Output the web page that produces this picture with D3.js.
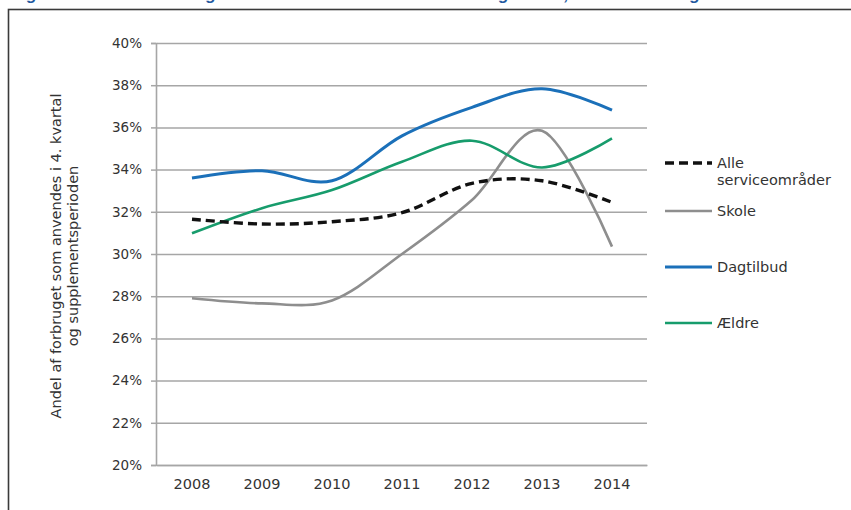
<!DOCTYPE html>
<html>
<head>
<meta charset="utf-8">
<script src="https://cdn.jsdelivr.net/npm/d3@7"></script>
<style>
  body { margin: 0; background: #fff; }
  text { font-family: "DejaVu Sans", Verdana, sans-serif; fill: #333; }
  .grid line { stroke: #a6a6a6; stroke-width: 1.5; }
  .grid path { display: none; }
</style>
</head>
<body>
<div id="chart"></div>
<script>
// data
const years = ["2008", "2009", "2010", "2011", "2012", "2013", "2014"];
const alle = [31.65, 31.42, 31.53, 31.96, 33.35, 33.47, 32.45];
const skole = [27.9, 27.66, 27.8, 30.0, 32.56, 35.84, 30.35];
const dagtilbud = [33.6, 33.95, 33.47, 35.6, 36.95, 37.83, 36.82];
const aeldre = [30.98, 32.17, 33.03, 34.37, 35.37, 34.1, 35.48];
const yTicks = [20, 22, 24, 26, 28, 30, 32, 34, 36, 38, 40];
const seriesNames = ["Alle serviceområder", "Skole", "Dagtilbud", "Ældre"];
const yLabelLines = ["Andel af forbruget som anvendes i 4. kvartal", "og supplementsperioden"];
// title is cut off at the top of the picture, only descenders show
const titleText = "Figur 2.4 Andel af forbruget som anvendes i årets 4. kvartal og ultimo, efter område og år";

const width = 851, height = 510;

const svg = d3.select("#chart").append("svg")
  .attr("width", width)
  .attr("height", height);

svg.append("text")
  .attr("x", 12)
  .attr("y", -0.5)
  .style("font-family", "'Liberation Sans', Arial, sans-serif")
  .style("font-weight", "bold")
  .style("font-style", "italic")
  .style("font-size", "16.8px")
  .style("fill", "#245a9f")
  .text(titleText);

// frame
svg.append("rect")
  .attr("x", 8.5)
  .attr("y", 9.5)
  .attr("width", 900)
  .attr("height", 600)
  .attr("fill", "none")
  .attr("stroke", "#3a3a3a")
  .attr("stroke-width", 1.6);

const x = d3.scaleBand().domain(years).range([157, 647]);
const y = d3.scaleLinear().domain([20, 40]).range([465, 43]);

// horizontal grid
svg.append("g")
  .attr("class", "grid")
  .attr("transform", "translate(157,0)")
  .call(d3.axisLeft(y).tickValues(yTicks).tickSize(-490).tickFormat(""));

// y axis
const yAx = svg.append("g")
  .attr("transform", "translate(156,0)")
  .call(d3.axisLeft(y).tickValues(yTicks).tickSize(5).tickPadding(9)
    .tickFormat(d => d + "%"));
yAx.select(".domain").attr("stroke", "#a6a6a6").attr("stroke-width", 1.6);
yAx.selectAll(".tick line").attr("stroke", "#a6a6a6").attr("stroke-width", 1.5);
yAx.selectAll(".tick text").style("font-size", "13.5px").style("fill", "#333");

// x axis
const xAx = svg.append("g")
  .attr("transform", "translate(0,465)")
  .call(d3.axisBottom(x).tickSize(0).tickPadding(14));
xAx.select(".domain").attr("stroke", "#a6a6a6").attr("stroke-width", 1.6);
xAx.selectAll(".tick text").style("font-size", "14.5px").style("fill", "#333");

// y label
const yl = svg.append("text")
  .attr("transform", "translate(61,256) rotate(-90)")
  .attr("text-anchor", "middle")
  .style("font-size", "14.5px");
yLabelLines.forEach((t, i) => {
  yl.append("tspan").attr("x", 0).attr("dy", i === 0 ? 0 : 17).text(t);
});

const line = d3.line()
  .x((d, i) => x(years[i]) + x.bandwidth() / 2)
  .y(d => y(d))
  .curve(d3.curveCardinal.tension(0));

const series = [
  { name: seriesNames[1], values: skole, color: "#8e8e8e", w: 2.6, dash: null },
  { name: seriesNames[2], values: dagtilbud, color: "#1b70b9", w: 3, dash: null },
  { name: seriesNames[3], values: aeldre, color: "#179c6c", w: 2.6, dash: null },
  { name: seriesNames[0], values: alle, color: "#111", w: 3.4, dash: "9,5" }
];

svg.selectAll(".series")
  .data(series)
  .enter()
  .append("path")
  .attr("class", "series")
  .attr("d", s => line(s.values))
  .attr("fill", "none")
  .attr("stroke", s => s.color)
  .attr("stroke-width", s => s.w)
  .attr("stroke-dasharray", s => s.dash);

// legend
const legendOrder = [series[3], series[0], series[1], series[2]];
const legendY = [163, 211, 267, 323];
const lg = svg.append("g");
legendOrder.forEach((s, i) => {
  const yy = legendY[i];
  lg.append("line")
    .attr("x1", 665).attr("x2", 712)
    .attr("y1", yy).attr("y2", yy)
    .attr("stroke", s.color)
    .attr("stroke-width", s.w)
    .attr("stroke-dasharray", s.dash);
  const t = lg.append("text")
    .attr("x", 717)
    .attr("y", yy + 5)
    .style("font-size", "14.5px");
  if (s.name === seriesNames[0]) {
    t.append("tspan").attr("x", 717).attr("dy", 0).text("Alle");
    t.append("tspan").attr("x", 717).attr("dy", 17).text("serviceområder");
  } else {
    t.text(s.name);
  }
});
</script>
</body>
</html>
